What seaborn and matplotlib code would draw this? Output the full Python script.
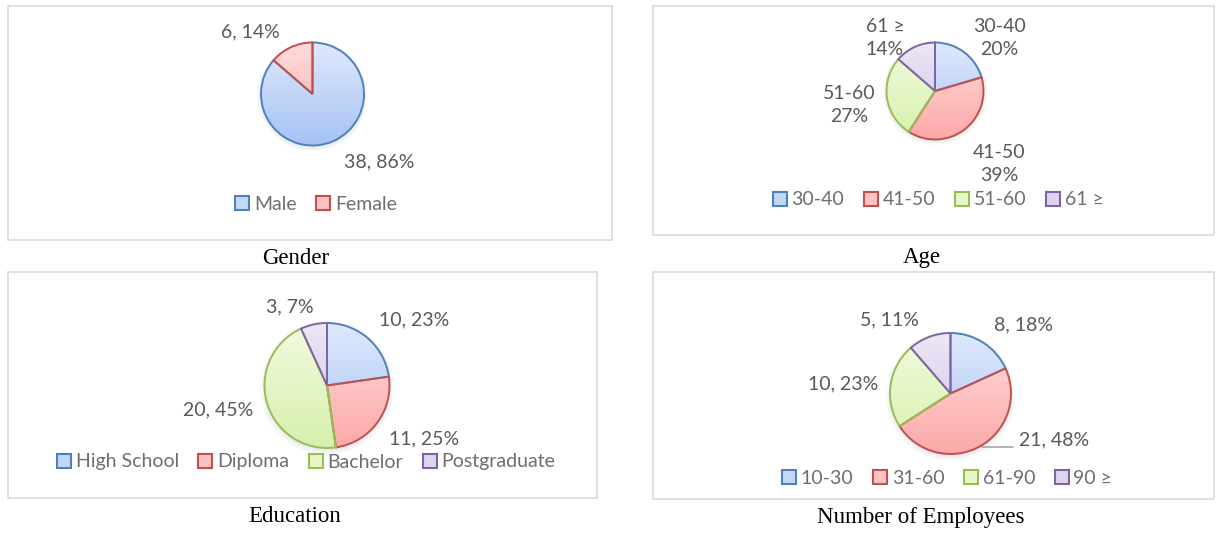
import matplotlib
matplotlib.use("Agg")
import numpy as np
import matplotlib.pyplot as plt
from matplotlib.patches import Rectangle, Patch, Circle
from matplotlib.colors import LinearSegmentedColormap
import seaborn as sns

# ---------------- data ----------------
gender_labels = ["Male", "Female"]
gender_values = [38, 6]

age_labels = ["30-40", "41-50", "51-60", "61 \u2265"]
age_values = [9, 17, 12, 6]

edu_labels = ["High School", "Diploma", "Bachelor", "Postgraduate"]
edu_values = [10, 11, 20, 3]

emp_labels = ["10-30", "31-60", "61-90", "90 \u2265"]
emp_values = [8, 21, 10, 5]

captions = ["Gender", "Age", "Education", "Number of Employees"]

# ---------------- style ----------------
sns.set_theme(style="white")
plt.rcParams["font.family"] = ["Lato", "DejaVu Sans"]

fills = ["#c4d7f7", "#fcc3c2", "#e7f6c8", "#ddd4ee"]
grad_top = ["#dfe9fc", "#ffdcdc", "#f2fbe0", "#ede7f6"]
grad_bot = ["#a6c3f5", "#fca9a8", "#d6f0ac", "#cdc1e5"]
edges = ["#4f81bd", "#c0504d", "#9bbb59", "#8064a2"]
label_color = "#595959"
legend_color = "#6e6e6e"

W, H = 1217, 533
fig = plt.figure(figsize=(W / 100, H / 100), dpi=100)
fig.patch.set_facecolor("white")


def fx(x):
    return x / W


def fy(y):
    return 1 - y / H


# layout (pixel coordinates)
panels = [
    dict(labels=gender_labels, values=gender_values, fmt="vp",
         box=(8, 6, 612, 240), center=(312.5, 94), r=51.5,
         lab_pos=[(379, 162), (250, 32)],
         legend=(316, 204), caption=(296, 258)),
    dict(labels=age_labels, values=age_values, fmt="np",
         box=(653, 6, 1214, 235), center=(935, 91), r=48.5,
         lab_pos=[(999, 38), (999, 164), (849, 105), (885, 38)],
         legend=(938, 200), caption=(922, 258)),
    dict(labels=edu_labels, values=edu_values, fmt="vp",
         box=(8, 272, 597, 498), center=(327, 385.5), r=62.5,
         lab_pos=[(414, 320), (424, 439), (218, 410), (290, 307)],
         legend=(306, 462), caption=(295, 517)),
    dict(labels=emp_labels, values=emp_values, fmt="vp",
         box=(653, 272, 1214, 499), center=(950.5, 393.5), r=60.5,
         lab_pos=[(1024, 325), (1054, 440), (843, 384), (889, 320)],
         legend=(947, 478), caption=(921, 517),
         leader=((982, 447), (1013, 447))),
]

grad = np.linspace(0, 1, 256).reshape(-1, 1)

for i, p in enumerate(panels):
    x0, y0, x1, y1 = p["box"]
    fig.patches.append(Rectangle((fx(x0), fy(y1)), fx(x1 - x0), (y1 - y0) / H,
                                 transform=fig.transFigure, fill=False,
                                 edgecolor="#d9d9d9", linewidth=1.2))
    cx, cy = p["center"]
    r = p["r"]
    pad = 0.15
    ax = fig.add_axes([fx(cx - r * (1 + pad)), fy(cy + r * (1 + pad)),
                       2 * r * (1 + pad) / W, 2 * r * (1 + pad) / H])
    n = len(p["values"])
    # soft shadow
    for k, a in enumerate([0.05, 0.05, 0.06]):
        ax.add_patch(Circle((0.0, -0.04), 1.0 + 0.035 * (2 - k),
                            color="#7f7f7f", alpha=a, lw=0, zorder=0))
    wedges, _ = ax.pie(p["values"], colors=fills[:n], startangle=90,
                       counterclock=False, radius=1,
                       wedgeprops=dict(linewidth=1.4))
    for k, w in enumerate(wedges):
        w.set_edgecolor(edges[k])
        w.set_zorder(3)
        cm = LinearSegmentedColormap.from_list(f"g{k}", [grad_top[k], grad_bot[k]])
        im = ax.imshow(grad, cmap=cm, extent=(-1, 1, -1, 1), origin="upper",
                       aspect="auto", zorder=2, interpolation="bilinear")
        im.set_clip_path(w)
        w.set_facecolor("none")
    ax.set_xlim(-1 - pad, 1 + pad)
    ax.set_ylim(-1 - pad, 1 + pad)
    ax.axis("off")

    total = sum(p["values"])
    for lab, v, (lx, ly) in zip(p["labels"], p["values"], p["lab_pos"]):
        pct = round(100 * v / total)
        if p["fmt"] == "vp":
            s = f"{v}, {pct}%"
        else:
            s = f"{lab}\n{pct}%"
        fig.text(fx(lx), fy(ly), s, ha="center", va="center",
                 fontsize=14, color=label_color, linespacing=1.45)

    if "leader" in p:
        (ax0, ay0), (ax1, ay1) = p["leader"]
        fig.add_artist(plt.Line2D([fx(ax0), fx(ax1)], [fy(ay0), fy(ay1)],
                                  transform=fig.transFigure,
                                  color="#a6a6a6", linewidth=1.2))

    handles = [Patch(facecolor=fills[k], edgecolor=edges[k], linewidth=1.5,
                     label=p["labels"][k]) for k in range(n)]
    lx, ly = p["legend"]
    leg = fig.legend(handles=handles, loc="center",
                     bbox_to_anchor=(fx(lx), fy(ly)), ncol=n, frameon=False,
                     fontsize=14, handlelength=0.72, handleheight=0.72,
                     handletextpad=0.25, columnspacing=1.0, borderpad=0)
    for t in leg.get_texts():
        t.set_color(legend_color)

    capx, capy = p["caption"]
    fig.text(fx(capx), fy(capy), captions[i], ha="center", va="center",
             fontsize=16.5, family="Liberation Serif", color="black")

fig.savefig("out.png", dpi=100, facecolor="white")
